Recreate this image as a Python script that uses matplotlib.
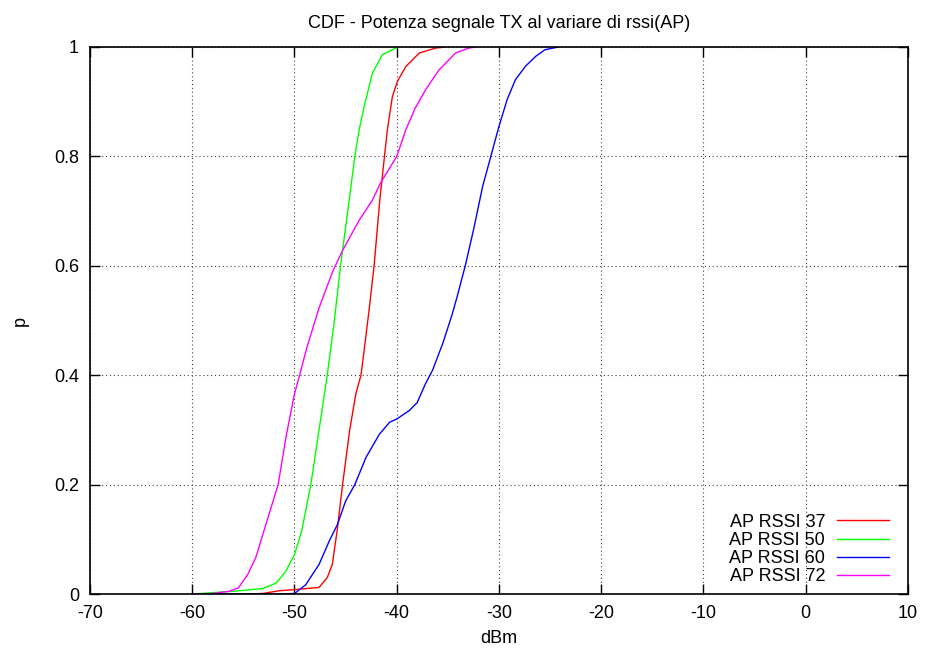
import matplotlib
matplotlib.use("Agg")
import matplotlib.pyplot as plt

plt.rcParams['font.family'] = ['Liberation Sans', 'DejaVu Sans']

# values (dBm, cumulative probability)
rssi37_x = [-60, -55, -53.1, -51.5, -50, -47.6, -46.8, -46.3, -45.8, -45.3, -44.6, -44.0, -43.5,
            -43.19, -42.7, -42.21, -41.66, -41.2, -40.92, -40.43, -39.94, -39.12, -37.8, -36.2, -35.2]
rssi37_p = [0, 0, 0.001, 0.006, 0.008, 0.012, 0.03, 0.054, 0.12, 0.2, 0.3, 0.366, 0.4,
            0.445, 0.52, 0.601, 0.72, 0.8, 0.848, 0.909, 0.937, 0.964, 0.989, 0.998, 1.0]

rssi50_x = [-60, -56.0, -53.1, -51.8, -50.9, -50, -49.3, -48.4, -47.6, -46.8, -46.1,
            -45.5, -44.65, -44.1, -43.68, -43.19, -42.38, -41.4, -40.1, -39.8]
rssi50_p = [0, 0.005, 0.01, 0.02, 0.04, 0.072, 0.115, 0.2, 0.3, 0.4, 0.5,
            0.6, 0.72, 0.8, 0.848, 0.891, 0.952, 0.986, 0.998, 1.0]

rssi60_x = [-60, -51.5, -50, -48.9, -47.6, -46.6, -45.8, -45.0, -44.1, -43.0, -41.7, -40.7,
            -40.0, -38.8, -38.0, -37.2, -36.5, -35.5, -34.6, -34.1, -33.3, -32.5, -31.6,
            -30.8, -30.0, -29.2, -28.4, -27.4, -26.4, -25.5, -24.2]
rssi60_p = [0, 0, 0.001, 0.017, 0.054, 0.097, 0.127, 0.17, 0.2, 0.25, 0.292, 0.314,
            0.32, 0.335, 0.35, 0.384, 0.409, 0.458, 0.51, 0.543, 0.6, 0.665, 0.745,
            0.8, 0.855, 0.904, 0.94, 0.965, 0.983, 0.995, 1.0]

rssi72_x = [-60, -58, -56.4, -55.5, -54.6, -53.8, -52.8, -51.6, -50.8, -50, -49.5, -48.8,
            -47.58, -46.28, -45.3, -43.68, -42.38, -41.6, -40.0, -39.12, -38.2, -37.17,
            -35.87, -34.24, -32.95, -32.3]
rssi72_p = [0, 0.001, 0.005, 0.011, 0.035, 0.066, 0.127, 0.2, 0.29, 0.366, 0.4, 0.45,
            0.524, 0.589, 0.628, 0.683, 0.72, 0.751, 0.8, 0.848, 0.888, 0.922,
            0.958, 0.989, 0.998, 1.0]

labels = ["AP RSSI 37", "AP RSSI 50", "AP RSSI 60", "AP RSSI 72"]
colors = ["#ff0000", "#00ff00", "#0000ff", "#ff00ff"]
x_ticks = [-70, -60, -50, -40, -30, -20, -10, 0, 10]
y_ticks = [0, 0.2, 0.4, 0.6, 0.8, 1]
y_tick_labels = ["0", "0.2", "0.4", "0.6", "0.8", "1"]

fig = plt.figure(figsize=(9.25, 6.48), dpi=100)
ax = fig.add_axes([0.0973, 0.0833, 0.8843, 0.8442])

series = [(rssi37_x, rssi37_p), (rssi50_x, rssi50_p), (rssi60_x, rssi60_p), (rssi72_x, rssi72_p)]
for (xs, ps), lab, col in zip(series, labels, colors):
    ax.plot(xs, ps, color=col, lw=1.0, label=lab)

ax.set_xlim(-70, 10)
ax.set_ylim(0, 1)
ax.set_xticks(x_ticks)
ax.set_xticklabels([str(t) for t in x_ticks])
ax.set_yticks(y_ticks)
ax.set_yticklabels(y_tick_labels)
ax.tick_params(direction='in', length=7, width=1, top=True, right=True,
               labelsize=13, pad=8, colors='black')
ax.grid(True, color='#444444', linestyle=(0, (1, 2.5)), linewidth=0.8)
for s in ax.spines.values():
    s.set_linewidth(1.2)

ax.set_title("CDF - Potenza segnale TX al variare di rssi(AP)", fontsize=13, pad=14)
ax.set_xlabel("dBm", fontsize=13, labelpad=6)
ax.set_ylabel("p", fontsize=13, labelpad=18)

ax.legend(loc='lower right', frameon=False, markerfirst=False, fontsize=13,
          handlelength=2.9, handletextpad=0.65, labelspacing=0.06,
          borderaxespad=0.1, bbox_to_anchor=(0.988, 0.0))

fig.savefig("out.png", dpi=100)
